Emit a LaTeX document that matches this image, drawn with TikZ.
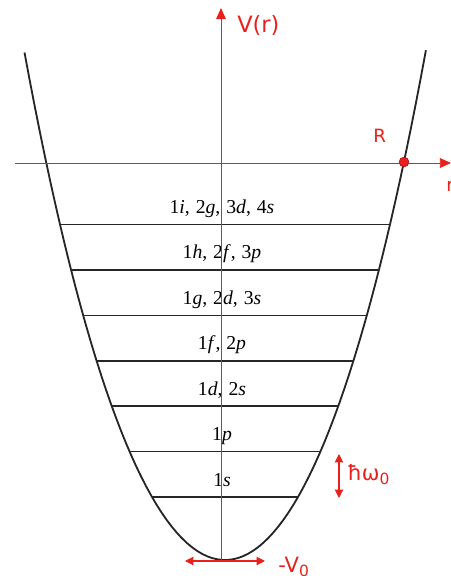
\documentclass[tikz,border=0pt]{standalone}
\usepackage{fontspec}
\setmainfont{Liberation Serif}
\newfontfamily\labfont{DejaVu Sans}
\usetikzlibrary{arrows.meta}
\definecolor{axred}{HTML}{E8211C}
\colorlet{ink}{black!85}
\tikzset{axis/.style={axred,line width=.7pt,-{Triangle[width=7pt,length=8pt]}},
  well/.style={line width=1.3pt,draw=ink},
  level/.style={line width=1.1pt,draw=ink},
  gap/.style={axred,line width=.8pt,{Triangle[width=6pt,length=6pt]}-{Triangle[width=6pt,length=6pt]}},
  shell/.style={anchor=base,inner sep=0pt,font=\fontsize{14}{16}\selectfont},
  redlab/.style={anchor=base west,inner sep=0pt,text=axred,font=\labfont\fontsize{13}{15}\selectfont}}
\newcommand\orb[2]{#1\textit{#2}}
\newcommand\cs{,\hspace{.3em}}

\begin{document}
\begin{tikzpicture}[x=.025cm,y=-.025cm]
\useasboundingbox (0,0) rectangle (451,576);
% levels, cut off by the well
\begin{scope}
\clip plot[domain=-2.005:2.01,samples=80] ({225+100*\x},{560-117*\x*\x-2.3*\x*\x*\x*\x}) -- cycle;
\foreach \i in {0,...,6}{\draw[level] (0,{497-45.4*\i})--(451,{497-45.4*\i});}
\end{scope}
\draw[well] plot[domain=-2.005:2.01,samples=80] ({225+100*\x},{560-117*\x*\x-2.3*\x*\x*\x*\x});
\foreach \lab [count=\i] in {{\orb1s},{\orb1p},{\orb1d\cs\orb2s},{\orb1f\cs\orb2p},
  {\orb1g\cs\orb2d\cs\orb3s},{\orb1h\cs\orb2f\cs\orb3p},{\orb1i\cs\orb2g\cs\orb3d\cs\orb4s}}{
 \node[shell] (s\i) at (222,{497-45.4*(\i-1)-11}) {\lab};
}
% axes
\coordinate (Vb) at (221,561);\coordinate (Vt) at (221,8);
\coordinate (rl) at (15,163);\coordinate (rr) at (451,163);
\draw[axis] (Vb)--(Vt);
\draw[axis] (rl)--(rr);
\node[redlab,font=\labfont\fontsize{16}{18}\selectfont] (Vr) at (237,33) {V(r)};
\node[redlab] (rname) at (446,192) {r};
\node[redlab] (Rname) at (373,143) {R};
\node[circle,fill=axred,draw=axred!70!black,inner sep=0pt,minimum size=7pt] (Rdot) at (404,162) {};
% spacing and depth
\coordinate (hwt) at (339,454);\coordinate (hwb) at (339,498);
\draw[gap] (hwt)--(hwb);
\node[redlab,font=\labfont\fontsize{15}{17}\selectfont] (hw) at (347,480) {ħω\raisebox{-.35ex}{\fontsize{11}{12}\selectfont 0}};
\coordinate (v0l) at (185,561);\coordinate (v0r) at (265,561);
\draw[gap] (v0l)--(v0r);
\node[redlab,font=\labfont\fontsize{15}{17}\selectfont] (v0) at (278,572) {-V\raisebox{-.35ex}{\fontsize{11}{12}\selectfont 0}};
\end{tikzpicture}
\end{document}
